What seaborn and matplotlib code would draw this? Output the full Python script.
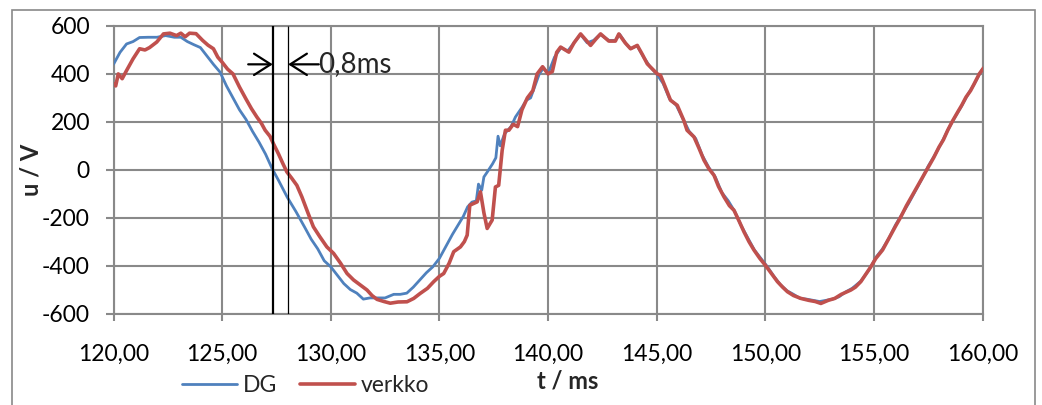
import numpy as np
import pandas as pd
import matplotlib
matplotlib.use("Agg")
import matplotlib.pyplot as plt
import seaborn as sns
from matplotlib.patches import Rectangle
from matplotlib.lines import Line2D
from matplotlib.ticker import FuncFormatter, FixedLocator

# ---------------- data ----------------
t_dg = [120.0, 120.3, 120.6, 120.9, 121.2, 121.6, 122.0, 122.4, 122.8, 123.1,
        123.4, 123.7, 124.0, 124.3, 124.6, 124.9, 125.2, 125.5, 125.8, 126.1,
        126.4, 126.7, 127.0, 127.3, 127.6, 128.0, 128.4, 128.8, 129.1, 129.4,
        129.7, 130.0, 130.3, 130.6, 130.9, 131.2, 131.5, 131.8, 132.1, 132.5,
        132.9, 133.2, 133.5, 133.8, 134.1, 134.4, 134.7, 135.0, 135.3, 135.6,
        135.9, 136.1, 136.3, 136.5, 136.7, 136.8, 136.95, 137.05, 137.2, 137.45,
        137.6, 137.7, 137.8, 138.0, 138.3, 138.5, 138.8, 139.0, 139.2, 139.4,
        139.6, 139.8, 140.0, 140.3, 140.6, 140.9, 141.2, 141.5, 141.8, 142.1,
        142.4, 142.8, 143.1, 143.3, 143.6, 143.8, 144.1, 144.4, 144.7, 145.0,
        145.3, 145.6, 145.9, 146.2, 146.5, 146.8, 147.1, 147.4, 147.7, 148.0,
        148.3, 148.6, 148.9, 149.2, 149.5, 149.8, 150.1, 150.4, 150.7, 151.0,
        151.3, 151.6, 151.9, 152.2, 152.5, 152.8, 153.1, 153.4, 153.7, 154.0,
        154.4, 154.8, 155.1, 155.4, 155.7, 156.0, 156.3, 156.6, 156.9, 157.2,
        157.5, 157.8, 158.1, 158.4, 158.7, 159.0, 159.3, 159.6, 159.9, 160.0]
u_dg = [440, 490, 525, 535, 552, 553, 553, 560, 553, 553,
        535, 522, 510, 475, 440, 408, 350, 300, 250, 210,
        160, 115, 65, 5, -45, -115, -175, -240, -290, -330,
        -380, -405, -440, -475, -500, -515, -540, -535, -535, -535,
        -520, -520, -515, -490, -460, -430, -405, -370, -320, -270,
        -225, -195, -155, -135, -130, -60, -85, -30, -10, 25,
        50, 140, 100, 150, 180, 220, 260, 290, 300, 350,
        400, 425, 400, 470, 510, 495, 530, 565, 530, 540,
        565, 540, 540, 565, 525, 505, 518, 470, 430, 400,
        360, 295, 270, 215, 160, 130, 60, 10, -30, -95,
        -130, -175, -235, -285, -335, -370, -405, -445, -480, -505,
        -520, -537, -540, -545, -550, -545, -540, -530, -510, -495,
        -465, -415, -365, -330, -285, -230, -185, -140, -90, -40,
        15, 60, 110, 165, 215, 260, 310, 355, 405, 420]

t_verkko = [120.0, 120.1, 120.22, 120.4, 120.6, 120.9, 121.2, 121.45, 121.66, 121.99,
            122.3, 122.6, 122.9, 123.1, 123.3, 123.5, 123.8, 124.1, 124.35, 124.6,
            124.8, 125.0, 125.25, 125.5, 125.8, 126.1, 126.35, 126.6, 126.8, 126.98,
            127.2, 127.36, 127.6, 127.8, 127.98, 128.2, 128.44, 128.67, 128.95, 129.2,
            129.5, 129.82, 130.13, 130.45, 130.75, 131.05, 131.36, 131.67, 131.9, 132.13,
            132.45, 132.74, 133.1, 133.51, 133.82, 134.12, 134.45, 134.74, 135.0, 135.2,
            135.45, 135.66, 135.97, 136.15, 136.28, 136.4, 136.6, 136.74, 136.89, 137.05,
            137.2, 137.43, 137.58, 137.73, 137.89, 138.04, 138.2, 138.4, 138.6, 138.8,
            139.05, 139.3, 139.5, 139.75, 140.0, 140.2, 140.4, 140.58, 140.96, 141.2,
            141.5, 141.96, 142.2, 142.42, 142.8, 143.1, 143.26, 143.55, 143.8, 144.11,
            144.35, 144.57, 145.03, 145.18, 145.4, 145.64, 145.95, 146.25, 146.4, 146.72,
            146.95, 147.18, 147.4, 147.64, 147.85, 148.1, 148.35, 148.56, 148.8, 149.02,
            149.25, 149.48, 149.75, 150.0, 150.3, 150.56, 150.8, 151.02, 151.3, 151.64,
            152.0, 152.3, 152.56, 152.9, 153.2, 153.5, 153.94, 154.15, 154.4, 154.6,
            154.86, 155.09, 155.4, 155.7, 156.0, 156.25, 156.5, 156.75, 157.0, 157.25,
            157.5, 157.75, 158.0, 158.2, 158.4, 158.6, 158.86, 159.05, 159.24, 159.45,
            159.62, 159.85, 160.05]
u_verkko = [360, 350, 400, 380, 414, 463, 505, 500, 510, 533,
            567, 570, 560, 570, 555, 570, 568, 540, 520, 505,
            470, 449, 420, 400, 345, 295, 255, 220, 195, 165,
            140, 109, 65, 25, -9, -35, -65, -113, -180, -238,
            -280, -322, -349, -390, -433, -460, -481, -502, -525, -541,
            -550, -557, -552, -551, -537, -516, -495, -467, -445, -433,
            -390, -342, -322, -300, -273, -148, -140, -134, -92, -180,
            -245, -210, -72, -65, 81, 165, 165, 190, 180, 250,
            300, 330, 400, 430, 400, 410, 490, 512, 491, 530,
            567, 519, 545, 567, 537, 537, 567, 530, 505, 519,
            480, 442, 400, 394, 345, 290, 269, 206, 165, 137,
            90, 40, 5, -23, -70, -113, -150, -169, -215, -259,
            -300, -335, -370, -398, -435, -467, -490, -509, -525, -537,
            -545, -550, -558, -545, -537, -520, -502, -490, -467, -440,
            -405, -370, -335, -285, -235, -195, -150, -110, -70, -30,
            10, 50, 95, 125, 165, 200, 241, 270, 303, 330,
            359, 400, 425]

series_names = ["DG", "verkko"]
series_colors = {"DG": "#4F81BD", "verkko": "#C0504D"}
x_ticks = [120, 125, 130, 135, 140, 145, 150, 155, 160]
y_ticks = [-600, -400, -200, 0, 200, 400, 600]
marker_times = [127.35, 128.02]
annot_y = 440
annot_text = "0,8ms"
x_label = "t / ms"
y_label = "u / V"

df = pd.concat([
    pd.DataFrame({"t": t_dg, "u": u_dg, "sarja": "DG"}),
    pd.DataFrame({"t": t_verkko, "u": u_verkko, "sarja": "verkko"}),
], ignore_index=True)

# ---------------- style ----------------
sns.set_style("white")
plt.rcParams["font.family"] = ["Lato", "DejaVu Sans"]
plt.rcParams["axes.unicode_minus"] = False
FS = 16.5
GRID = "#898989"

fig = plt.figure(figsize=(10.42, 4.05), dpi=100)
ax = fig.add_axes([113.5 / 1042, 1 - 313.5 / 405, 869 / 1042, 287.5 / 405])

widths = {"DG": 2.0, "verkko": 2.6}
for name in series_names:
    sns.lineplot(data=df[df["sarja"] == name], x="t", y="u", color=series_colors[name],
                 linewidth=widths[name], estimator=None, sort=False, ax=ax, zorder=3)

ax.set_xlim(x_ticks[0], x_ticks[-1])
ax.set_ylim(y_ticks[0], y_ticks[-1])
ax.xaxis.set_major_locator(FixedLocator(x_ticks))
ax.yaxis.set_major_locator(FixedLocator(y_ticks))
ax.xaxis.set_major_formatter(FuncFormatter(lambda v, p: f"{v:.2f}".replace(".", ",")))
ax.yaxis.set_major_formatter(FuncFormatter(lambda v, p: f"{int(round(v))}"))

ax.grid(True, color=GRID, linewidth=1.5)
ax.set_axisbelow(True)
for s in ax.spines.values():
    s.set_color(GRID)
    s.set_linewidth(1.5)
ax.tick_params(axis="both", which="major", bottom=True, left=True, direction="out",
               color=GRID, width=1.5, labelsize=FS, labelcolor="black")
ax.tick_params(axis="y", length=6, pad=11)
ax.tick_params(axis="x", length=5, pad=17)

ax.set_xlabel(x_label, fontsize=FS + 0.5, fontweight="bold")
ax.set_ylabel(y_label, fontsize=FS + 0.5, fontweight="bold")
ax.xaxis.set_label_coords(0.523, -0.195)
ax.yaxis.set_label_coords(-0.082, 0.5)

# annotation: two vertical markers and arrows
ax.vlines(marker_times[0], y_ticks[0], y_ticks[-1], color="black", linewidth=1.6, zorder=4)
ax.vlines(marker_times[1], y_ticks[0], y_ticks[-1], color="black", linewidth=0.9, zorder=4)
ax.annotate("", xy=(marker_times[0] - 0.02, annot_y), xytext=(126.2, annot_y),
            arrowprops=dict(arrowstyle="->,head_length=0.5,head_width=0.32", color="black",
                            lw=1.6, mutation_scale=24, shrinkA=0, shrinkB=0), zorder=5)
ax.annotate("", xy=(marker_times[1] + 0.02, annot_y), xytext=(129.45, annot_y),
            arrowprops=dict(arrowstyle="->,head_length=0.5,head_width=0.32", color="black",
                            lw=1.6, mutation_scale=24, shrinkA=0, shrinkB=0), zorder=5)
ax.text(129.42, annot_y, annot_text, fontsize=20, ha="left", va="center", zorder=5)

# legend
handles = [Line2D([], [], color=series_colors[n], linewidth=widths[n]) for n in series_names]
fig.legend(handles, series_names, loc="center", bbox_to_anchor=(0.293, 0.047), ncol=2,
           frameon=False, fontsize=FS, handlelength=2.4, handletextpad=0.25,
           columnspacing=1.0)

# outer chart frame
fig.patches.append(Rectangle((11.5 / 1042, -0.02), (1035 - 11.5) / 1042, 1 - 10 / 405 + 0.02,
                             transform=fig.transFigure, fill=False, edgecolor=GRID,
                             linewidth=1.2, zorder=0))

fig.savefig("out.png", dpi=100)
